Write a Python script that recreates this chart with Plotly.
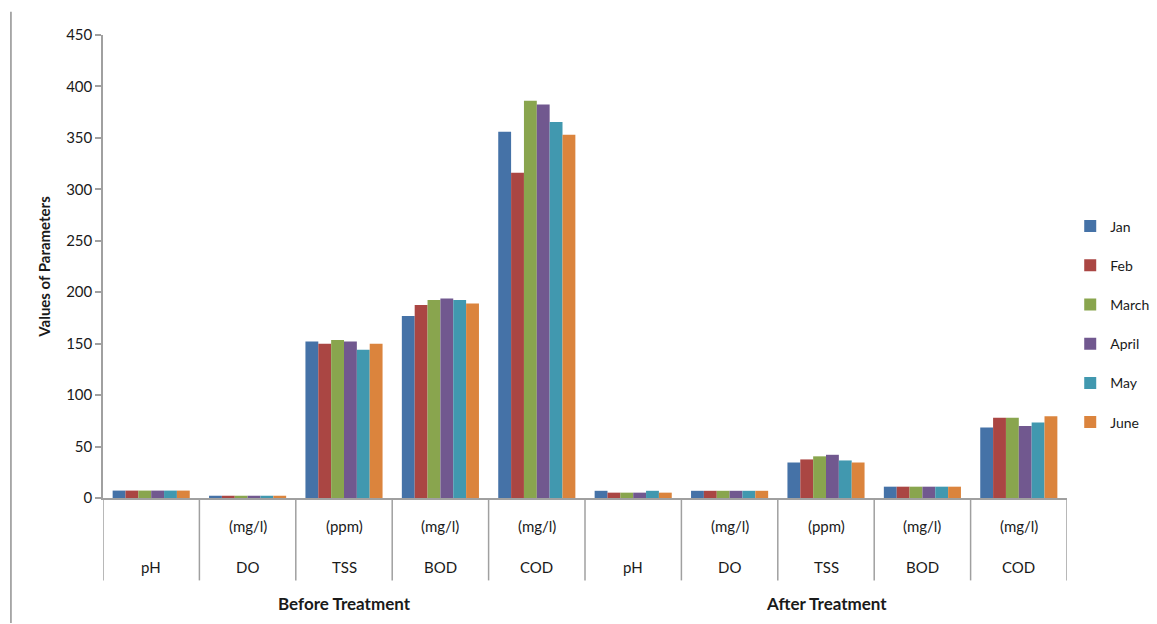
import plotly.graph_objects as go

# Parameter groups and their inner labels
stages = ["Before Treatment", "After Treatment"]
params = ["pH", "DO", "TSS", "BOD", "COD"]
units = ["", "(mg/l)", "(ppm)", "(mg/l)", "(mg/l)"]

months = ["Jan", "Feb", "March", "April", "May", "June"]
colors = ["#4572A7", "#AA4643", "#89A54E", "#71588F", "#4198AF", "#DB843D"]

# Values per month: pH, DO, TSS, BOD, COD (before) then pH, DO, TSS, BOD, COD (after)
jan = [7.2, 2.2, 152, 177, 356, 7.0, 7.0, 34.5, 11, 68.5]
feb = [7.2, 2.2, 150, 187.5, 316, 5.2, 7.0, 37.5, 11, 78]
march = [7.2, 2.2, 153.5, 192.5, 386, 5.2, 7.0, 40.5, 11, 78]
april = [7.2, 2.2, 152, 194, 382.5, 5.2, 7.0, 42, 11, 70]
may = [7.2, 2.2, 144, 192.5, 365.5, 7.0, 7.0, 36.5, 11, 73.5]
june = [7.2, 2.2, 150, 189, 353, 5.2, 7.0, 34.5, 11, 79.5]
series = [jan, feb, march, april, may, june]

positions = list(range(len(stages) * len(params)))
inner_names = params * len(stages)
inner_units = units * len(stages)

fig = go.Figure()
for name, vals, col in zip(months, series, colors):
    fig.add_trace(go.Bar(
        x=positions, y=vals, name=name, legendgroup=name,
        marker=dict(color=col, line=dict(width=0)),
    ))

axis_grey = "#A0A0A0"
text_col = "#1a1a1a"
font_family = "Lato, 'Open Sans', sans-serif"

fig.update_layout(
    width=1157, height=624,
    margin=dict(l=103, r=90, t=35, b=126, autoexpand=False),
    paper_bgcolor="white", plot_bgcolor="white",
    barmode="group", bargap=0.2, bargroupgap=0,
    font=dict(family=font_family, size=15, color=text_col),
    showlegend=True,
    legend=dict(
        xref="container", yref="container",
        x=0.925, xanchor="left", y=0.48, yanchor="middle",
        font=dict(size=14, color=text_col),
        tracegroupgap=18, itemwidth=30,
        bgcolor="rgba(0,0,0,0)",
    ),
    xaxis=dict(
        range=[-0.5, len(positions) - 0.5],
        showticklabels=False, showgrid=False, zeroline=False,
        showline=True, linecolor=axis_grey, linewidth=1.5,
        ticks="", fixedrange=True,
    ),
    yaxis=dict(
        range=[0, 450], dtick=50, tick0=0,
        showgrid=False, zeroline=False,
        showline=True, linecolor=axis_grey, linewidth=1.5,
        ticks="outside", ticklen=6, tickcolor=axis_grey, tickwidth=1.5,
        tickfont=dict(size=15, color=text_col),
        title=dict(text="<b>Values of Parameters</b>", standoff=12,
                   font=dict(size=15, color=text_col)),
    ),
)

# Category dividers below the axis
for b in range(len(positions) + 1):
    fig.add_shape(type="line", xref="x", yref="paper",
                  x0=b - 0.5, x1=b - 0.5, y0=0, y1=-0.178,
                  line=dict(color=axis_grey, width=1.5))

# Inner labels: unit row and parameter row
for p, u, n in zip(positions, inner_units, inner_names):
    if u:
        fig.add_annotation(x=p, y=-0.06, xref="x", yref="paper", text=u,
                           showarrow=False, yanchor="middle",
                           font=dict(size=15, color=text_col))
    fig.add_annotation(x=p, y=-0.149, xref="x", yref="paper", text=n,
                       showarrow=False, yanchor="middle",
                       font=dict(size=15, color=text_col))

# Outer group labels
for i, s in enumerate(stages):
    centre = i * len(params) + (len(params) - 1) / 2
    fig.add_annotation(x=centre, y=-0.227, xref="x", yref="paper",
                       text=f"<b>{s}</b>", showarrow=False, yanchor="middle",
                       font=dict(size=17, color=text_col))

# Frame edge on the left side of the canvas
fig.add_shape(type="line", xref="paper", yref="paper",
              x0=-0.0955, x1=-0.0955, y0=1.05, y1=-0.27,
              line=dict(color="#909090", width=1.5))

fig.write_html("out.html")
